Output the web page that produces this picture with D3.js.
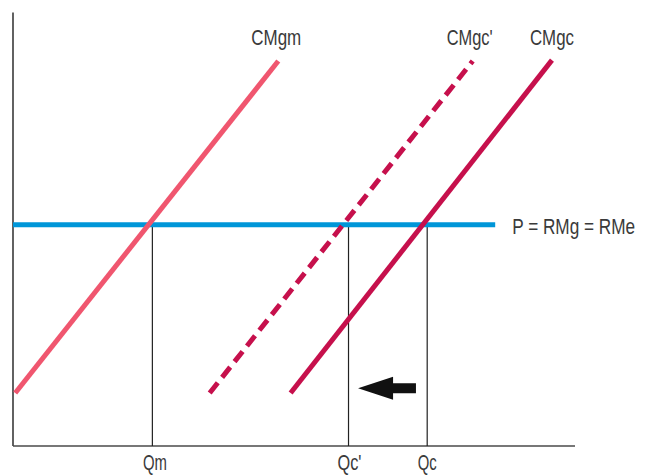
<!DOCTYPE html>
<html>
<head>
<meta charset="utf-8">
<script src="https://cdn.jsdelivr.net/npm/d3@7"></script>
<style>
  html, body { margin: 0; padding: 0; background: #fff; }
  svg { display: block; }
  text { font-family: "Liberation Sans", Arial, sans-serif; font-weight: normal; fill: #3a3a3a; }
</style>
</head>
<body>
<script>
// ---- data (abstract quantity / price units) ----
const priceLevel = 50.5;            // P = RMg = RMe
const priceLineEnd = 85.8;          // x where the price line stops
const curveNames = ["CMgm", "CMgc'", "CMgc"];
const curveStart = [[0.4, 12.1], [35.0, 12.1], [49.4, 12.1]];
const curveEnd = [[47.2, 87.9], [81.8, 87.9], [95.9, 88.1]];
const curveColors = ["#f0566f", "#c6104c", "#c6104c"];
const curveDashed = [false, true, false];
const quantityLabels = ["Qm", "Qc'", "Qc"];
const quantityValues = [24.8, 59.7, 73.7];
const arrowFrom = [71.7, 13.2];
const arrowTo = [61.4, 13.2];
const priceLabel = "P = RMg = RMe";

const W = 647, H = 476;
const FS = 22;
const x = d3.scaleLinear().domain([0, 100]).range([13, 575]);
const y = d3.scaleLinear().domain([0, 100]).range([446, 8]);

const svg = d3.select("body").append("svg").attr("width", W).attr("height", H);

// condensed text: horizontally scaled so it spans the wanted width
function label(txt, cx, by, width, anchor) {
  const g = svg.append("g");
  const t = g.append("text").attr("x", 0).attr("y", 0).attr("font-size", FS).text(txt);
  const natural = t.node().getComputedTextLength();
  const sx = width / natural;
  const left = anchor === "start" ? cx : cx - width / 2;
  g.attr("transform", `translate(${left},${by}) scale(${sx},1)`);
  return t;
}

// axes
svg.append("line").attr("x1", x(0)).attr("x2", x(0)).attr("y1", y(0)).attr("y2", y(99))
  .attr("stroke", "#3a3a3a").attr("stroke-width", 1.6);
svg.append("line").attr("x1", x(0)).attr("x2", x(100)).attr("y1", y(0)).attr("y2", y(0))
  .attr("stroke", "#4a4a4a").attr("stroke-width", 1.6);

// vertical guides
svg.selectAll("line.guide").data(quantityValues).join("line").attr("class", "guide")
  .attr("x1", d => x(d)).attr("x2", d => x(d))
  .attr("y1", y(priceLevel)).attr("y2", y(0))
  .attr("stroke", "#222").attr("stroke-width", 1.2);

// quantity labels
const qWidths = [24, 24, 19];
const qShift = [2.5, 1, 0];
quantityLabels.forEach((q, i) => label(q, x(quantityValues[i]) + qShift[i], 470, qWidths[i]));

// price line
svg.append("line").attr("x1", x(0)).attr("x2", x(priceLineEnd))
  .attr("y1", y(priceLevel)).attr("y2", y(priceLevel))
  .attr("stroke", "#0096d8").attr("stroke-width", 5);
label(priceLabel, x(priceLineEnd) + 17, y(priceLevel) + 9, 123, "start");

// cost curves
const nameWidths = [50, 46, 44];
const nameShift = [-2, -3, 0];
curveNames.forEach((name, i) => {
  svg.append("line")
    .attr("x1", x(curveStart[i][0])).attr("y1", y(curveStart[i][1]))
    .attr("x2", x(curveEnd[i][0])).attr("y2", y(curveEnd[i][1]))
    .attr("stroke", curveColors[i]).attr("stroke-width", 5)
    .attr("stroke-dasharray", curveDashed[i] ? "13,7" : null);
  label(name, x(curveEnd[i][0]) + nameShift[i], 45, nameWidths[i]);
});

// arrow
const ax0 = x(arrowFrom[0]), ax1 = x(arrowTo[0]), ay = y(arrowFrom[1]);
const headBack = ax1 + 35;
const arrowPts = [
  [ax1, ay], [headBack, ay - 11.5], [headBack, ay - 5], [ax0, ay - 5],
  [ax0, ay + 5], [headBack, ay + 5], [headBack, ay + 11.5]
];
svg.append("path").attr("d", d3.line()(arrowPts) + "Z").attr("fill", "#111");
</script>
</body>
</html>
